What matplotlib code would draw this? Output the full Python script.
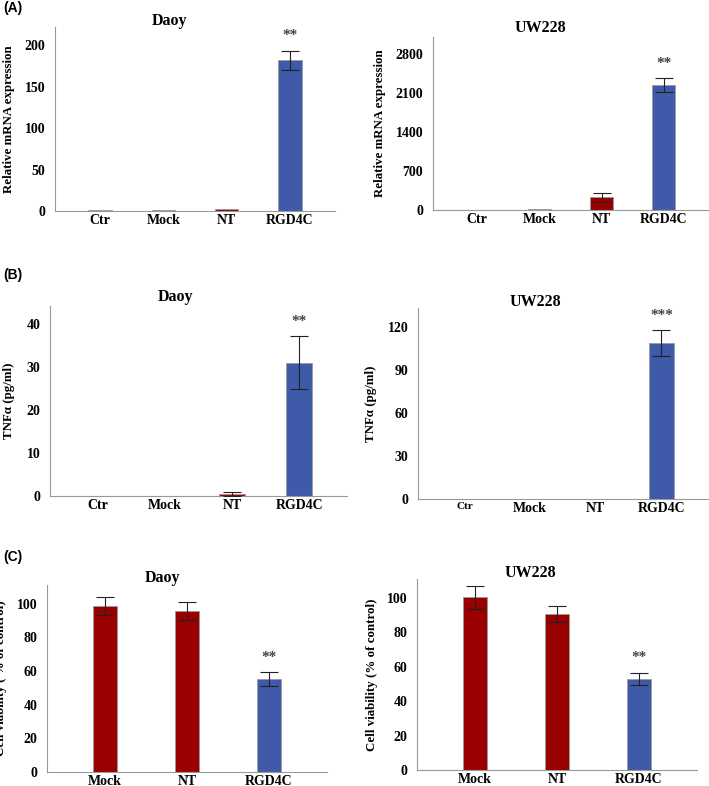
import matplotlib.pyplot as plt
import numpy as np

plt.rcParams['font.family'] = ['Liberation Serif', 'DejaVu Serif']
plt.rcParams['font.weight'] = 'bold'

W, H = 709, 786
red = '#990000'
blue = '#3f5aa8'

# data
cat4 = ['Ctr', 'Mock', 'NT', 'RGD4C']
cat3 = ['Mock', 'NT', 'RGD4C']

mrna_daoy = [1, 1, 2, 182]
mrna_daoy_err = [0, 0, 0, 11.5]
mrna_uw = [2, 10, 225, 2238]
mrna_uw_err = [0, 0, 88, 125]

tnf_daoy = [0.05, 0.05, 0.5, 31.1]
tnf_daoy_err = [0, 0, 0.5, 6.2]
tnf_uw = [0.3, 0.3, 0.3, 108.8]
tnf_uw_err = [0, 0, 0, 9]

via_daoy = [98.6, 95.7, 55.1]
via_daoy_err = [5.3, 5.3, 4.2]
via_uw = [100.4, 90.7, 53.0]
via_uw_err = [6.7, 4.6, 3.6]

colors4 = ['#7a7a9a', '#5a6aa0', red, blue]
colors3 = [red, red, blue]


def make_ax(x0, y0, x1, y1):
    return fig.add_axes([x0 / W, 1 - y1 / H, (x1 - x0) / W, (y1 - y0) / H])


def draw(ax, cats, vals, errs, cols, ymax, yticks, width, stars, ylabel):
    x = np.arange(len(cats))
    ax.bar(x, vals, width=width, color=cols, edgecolor='#999999', linewidth=0.6, zorder=2)
    for xi, v, e in zip(x, vals, errs):
        if e > 0:
            ax.errorbar(xi, v, yerr=e, color='#222222', elinewidth=0.8,
                        capsize=6.5, capthick=0.8, zorder=3)
    top = vals[-1] + errs[-1]
    ax.annotate(stars, (x[-1], top), xytext=(0, 6), textcoords='offset points',
                ha='center', va='bottom', fontsize=11, color='#444444')
    ax.set_xlim(-0.71, len(cats) - 1 + 0.71)
    ax.set_ylim(0, ymax)
    ax.set_yticks(yticks)
    ax.set_xticks(x)
    ax.set_xticklabels(cats, fontsize=10, fontweight='bold')
    ax.tick_params(axis='y', labelsize=10, length=0, pad=7)
    ax.tick_params(axis='x', length=0, pad=2)
    for s in ['top', 'right']:
        ax.spines[s].set_visible(False)
    for s in ['left', 'bottom']:
        ax.spines[s].set_color('#999999')
        ax.spines[s].set_linewidth(0.8)
    ax.set_ylabel(ylabel, fontsize=9.3, fontweight='bold')


fig = plt.figure(figsize=(W / 100, H / 100), dpi=100)

a1 = make_ax(55, 27, 335, 211)
draw(a1, cat4, mrna_daoy, mrna_daoy_err, colors4, 222, [0, 50, 100, 150, 200], 0.37, '**',
     'Relative mRNA expression')
a2 = make_ax(433, 37, 708, 210)
draw(a2, cat4, mrna_uw, mrna_uw_err, colors4, 3100, [0, 700, 1400, 2100, 2800], 0.37, '**',
     'Relative mRNA expression')
b1 = make_ax(50, 306, 347, 496)
draw(b1, cat4, tnf_daoy, tnf_daoy_err, colors4, 44.3, [0, 10, 20, 30, 40], 0.39, '**',
     'TNF\u03b1 (pg/ml)')
b2 = make_ax(418, 308, 708, 499)
draw(b2, cat4, tnf_uw, tnf_uw_err, colors4, 133.5, [0, 30, 60, 90, 120], 0.39, '***',
     'TNF\u03b1 (pg/ml)')
c1 = make_ax(47, 585, 327, 772)
draw(c1, cat3, via_daoy, via_daoy_err, colors3, 111, [0, 20, 40, 60, 80, 100], 0.3, '**',
     'Cell viability ( % of control)')
c2 = make_ax(417, 579, 697, 770)
draw(c2, cat3, via_uw, via_uw_err, colors3, 111, [0, 20, 40, 60, 80, 100], 0.3, '**',
     'Cell viability (% of control)')

b2.get_xticklabels()[0].set_fontsize(8)

# y label positions (pixels)
for ax, xl, x0, x1 in [(a1, 15, 55, 335), (a2, 386, 433, 708), (b1, 15, 50, 347),
                       (b2, 377, 418, 708), (c1, 7, 47, 327), (c2, 378, 417, 697)]:
    ax.yaxis.set_label_coords((xl - x0) / (x1 - x0), 0.5)

# titles
for t, xp, yp in [('Daoy', 169, 21), ('UW228', 540, 28), ('Daoy', 175, 297),
                  ('UW228', 535, 302), ('Daoy', 162, 578), ('UW228', 530, 573)]:
    fig.text(xp / W, 1 - yp / H, t, ha='center', va='center', fontsize=11.5, fontweight='bold')

# panel labels
for t, yp in [('(A)', 8), ('(B)', 275), ('(C)', 557)]:
    fig.text(3 / W, 1 - yp / H, t, ha='left', va='center', fontsize=10, fontweight='bold',
             family='Liberation Sans')

fig.savefig('out.png', dpi=100)
